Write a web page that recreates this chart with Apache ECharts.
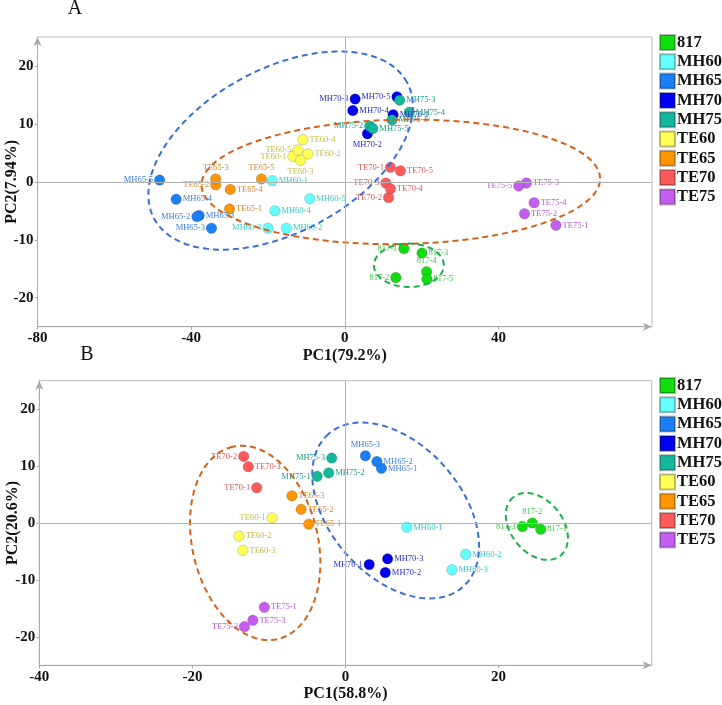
<!DOCTYPE html>
<html>
<head>
<meta charset="utf-8">
<script src="https://cdn.jsdelivr.net/npm/echarts@6/dist/echarts.min.js"></script>
<style>
  html, body { margin: 0; padding: 0; background: #fff; }
  #chart { width: 722px; height: 705px; }
</style>
</head>
<body>
<div id="chart"></div>
<script>
const serif = '"Times New Roman", "Liberation Serif", serif';

const groups = ['817', 'MH60', 'MH65', 'MH70', 'MH75', 'TE60', 'TE65', 'TE70', 'TE75'];
const dotColors = ['#11dd11', '#66ffff', '#1a80f5', '#0000ee', '#14b89c', '#ffff55', '#ff9500', '#ff5a5a', '#c45ef0'];
const labelColors = ['#3cc83c', '#3cc8c8', '#3a7fd6', '#2d2dc8', '#1fa08c', '#c2b84a', '#d4882c', '#d25a5a', '#b25ad8'];

// panel A, samples 1..5 of each group [PC1, PC2]
const a817 = [[15.4, -11.5], [13.3, -16.5], [20.1, -12.3], [21.3, -15.5], [21.4, -16.8]];
const aMH60 = [[-18.9, 0.2], [-15.2, -8.0], [-20.0, -8.0], [-18.2, -5.0], [-9.1, -2.9]];
const aMH65 = [[-37.9, -5.8], [-38.5, -6.0], [-34.7, -8.0], [-43.9, -3.0], [-48.2, 0.3]];
const aMH70 = [[12.6, 11.6], [5.9, 8.3], [2.7, 14.3], [2.1, 12.3], [13.6, 14.7]];
const aMH75 = [[12.3, 10.7], [6.5, 9.6], [14.3, 14.1], [16.8, 12.0], [7.3, 9.2]];
const aTE60 = [[-13.5, 4.4], [-9.6, 4.8], [-11.5, 3.7], [-10.9, 7.3], [-12.2, 5.5]];
const aTE65 = [[-30.0, -4.7], [-33.6, -0.5], [-33.6, 0.5], [-29.8, -1.3], [-21.7, 0.5]];
const aTE70 = [[11.9, 2.5], [11.4, -2.7], [10.7, -0.2], [11.9, -1.2], [14.5, 1.9]];
const aTE75 = [[55.0, -7.5], [46.8, -5.5], [47.3, -0.2], [49.3, -3.6], [45.3, -0.7]];

// panel B, samples 1..3 of each group
const b817 = [[25.5, -1.1], [24.4, 0.0], [23.1, -0.6]];
const bMH60 = [[8.0, -0.75], [15.7, -5.5], [13.9, -8.2]];
const bMH65 = [[4.7, 9.6], [4.1, 10.8], [2.6, 11.8]];
const bMH70 = [[3.1, -7.3], [5.2, -8.7], [5.5, -6.3]];
const bMH75 = [[-3.7, 8.2], [-2.2, 8.8], [-1.8, 11.4]];
const bTE60 = [[-9.6, 0.9], [-13.9, -2.3], [-13.4, -4.8]];
const bTE65 = [[-4.8, -0.2], [-5.8, 2.4], [-7.0, 4.8]];
const bTE70 = [[-11.6, 6.2], [-13.3, 11.7], [-12.7, 9.9]];
const bTE75 = [[-10.6, -14.8], [-13.2, -18.2], [-12.1, -17.1]];

const pointsA = [a817, aMH60, aMH65, aMH70, aMH75, aTE60, aTE65, aTE70, aTE75];
const pointsB = [b817, bMH60, bMH65, bMH70, bMH75, bTE60, bTE65, bTE70, bTE75];

// group ellipses: centre x, centre y, semi-axes (x units), angle (deg)
const ellipseA = [[-16.7, 5.4, 37.4, 21.3, 28.3], [14.6, 0.0, 51.9, 16.2, 1], [16.7, -14.4, 9.1, 5.65, 0]];
const ellipseB = [[-11.8, -3.5, 12.9, 8.2, 103.3], [6.55, 2.2, 13.3, 8.6, 131.3], [25.0, -0.6, 4.9, 3.4, 128.8]];
const ellipseColorsA = ['#3b6fd6', '#d4621a', '#19b04c'];
const ellipseColorsB = ['#d4621a', '#3b6fd6', '#19b04c'];

const ticksA_x = [-80, -40, 0, 40];
const ticksB_x = [-40, -20, 0, 20];
const ticksY = [-20, -10, 0, 10, 20];

// label sides (default right)
const leftA = ['817-1', '817-2', 'MH60-3', 'MH65-2', 'MH65-3', 'MH65-5', 'MH70-3', 'MH70-5', 'MH75-2',
  'TE60-1', 'TE60-5', 'TE65-2', 'TE70-1', 'TE70-2', 'TE70-3', 'TE75-5'];
const topA = ['TE65-3', 'TE65-5', '817-4'];
const bottomA = ['MH70-2', 'TE60-3'];
const leftB = ['817-3', 'TE70-2', 'TE70-1', 'MH75-3', 'MH75-1', 'TE60-1', 'TE75-2', 'MH70-1'];
const topB = ['817-2', 'MH65-3'];
const bottomB = [];

const chart = echarts.init(document.getElementById('chart'), null, { renderer: 'canvas' });

function scatter(pts, gi, k, left, top, bottom) {
  const name = groups[gi];
  return {
    type: 'scatter',
    name: name,
    xAxisIndex: k,
    yAxisIndex: k,
    symbolSize: 10.5,
    z: 3,
    itemStyle: { color: dotColors[gi], borderColor: 'rgba(0,0,0,0.28)', borderWidth: 0.6, opacity: 1 },
    label: {
      show: true, formatter: '{b}', color: labelColors[gi],
      fontFamily: serif, fontSize: 8.5, distance: 1
    },
    emphasis: { disabled: true },
    data: pts.map((p, i) => {
      const id = name + '-' + (i + 1);
      let pos = 'right';
      if (left.includes(id)) pos = 'left';
      else if (top.includes(id)) pos = 'top';
      else if (bottom.includes(id)) pos = 'bottom';
      return { value: p, name: id, label: { position: pos } };
    })
  };
}

function ellipses(rows, colors, k) {
  return {
    type: 'custom',
    xAxisIndex: k,
    yAxisIndex: k,
    z: 4,
    silent: true,
    dimensions: ['x', 'y', 'a', 'b', 'ang'],
    encode: { x: 0, y: 1 },
    data: rows,
    renderItem: (params, api) => {
      const c = api.coord([api.value(0), api.value(1)]);
      const unit = api.size([1, 0])[0];
      const a = api.value(2) * unit;
      const b = api.value(3) * unit;
      const th = api.value(4) * Math.PI / 180;
      const pts = [];
      for (let i = 0; i <= 120; i++) {
        const t = i / 120 * Math.PI * 2;
        const ex = a * Math.cos(t), ey = b * Math.sin(t);
        pts.push([c[0] + ex * Math.cos(th) - ey * Math.sin(th),
                  c[1] - (ex * Math.sin(th) + ey * Math.cos(th))]);
      }
      return {
        type: 'polyline',
        shape: { points: pts },
        style: { stroke: colors[params.dataIndex], lineWidth: 2, lineDash: [6, 4], fill: null }
      };
    }
  };
}

function zeroLines(k) {
  return {
    type: 'scatter', xAxisIndex: k, yAxisIndex: k, data: [], z: 1, silent: true,
    markLine: {
      silent: true, symbol: 'none', label: { show: false }, animation: false,
      lineStyle: { color: '#b4b4b4', type: 'solid', width: 1 },
      data: [{ xAxis: 0 }, { yAxis: 0 }]
    }
  };
}

const tickText = { fontFamily: serif, fontWeight: 'bold', fontSize: 15, color: '#111' };
const nameText = { fontFamily: serif, fontWeight: 'bold', fontSize: 16, color: '#111' };
const axisLine = { show: true, onZero: false, lineStyle: { color: '#aaa' }, symbol: ['none', 'arrow'], symbolSize: [6, 9] };

function xAxis(k, min, max, ticks, name) {
  return {
    type: 'value', gridIndex: k, min: min, max: max,
    splitLine: { show: false },
    axisLine: axisLine,
    axisTick: { show: true, length: 3, lineStyle: { color: '#aaa' }, customValues: ticks },
    axisLabel: Object.assign({ margin: 4, customValues: ticks }, tickText),
    name: name, nameLocation: 'middle', nameGap: 21, nameMoveOverlap: false, nameTextStyle: nameText
  };
}

function yAxis(k, name) {
  return {
    type: 'value', gridIndex: k, min: -25, max: 25,
    splitLine: { show: false },
    axisLine: axisLine,
    axisTick: { show: true, length: 3, lineStyle: { color: '#aaa' }, customValues: ticksY },
    axisLabel: Object.assign({ margin: 4, customValues: ticksY }, tickText),
    name: name, nameLocation: 'middle', nameGap: 18, nameMoveOverlap: false, nameTextStyle: nameText
  };
}

function legend(top) {
  return {
    data: groups, orient: 'vertical', left: 659, top: top, padding: 0,
    itemWidth: 15, itemHeight: 15, itemGap: 2.3, icon: 'rect', selectedMode: false,
    textStyle: { fontFamily: serif, fontWeight: 'bold', fontSize: 16.5, lineHeight: 15, color: '#111', padding: [0, 0, 0, -3] }
  };
}

const series = [zeroLines(0), zeroLines(1)];
pointsA.forEach((pts, gi) => series.push(scatter(pts, gi, 0, leftA, topA, bottomA)));
pointsB.forEach((pts, gi) => series.push(scatter(pts, gi, 1, leftB, topB, bottomB)));
series.push(ellipses(ellipseA, ellipseColorsA, 0));
series.push(ellipses(ellipseB, ellipseColorsB, 1));

chart.setOption({
  animation: false,
  grid: [
    { left: 37.5, right: 70, top: 37, bottom: 378.3, show: true, borderColor: '#bbb', borderWidth: 1, outerBoundsMode: 'none', containLabel: false },
    { left: 39.3, right: 70.3, top: 380.7, bottom: 39.7, show: true, borderColor: '#bbb', borderWidth: 1, outerBoundsMode: 'none', containLabel: false }
  ],
  xAxis: [xAxis(0, -80, 80, ticksA_x, 'PC1(79.2%)'), xAxis(1, -40, 40, ticksB_x, 'PC1(58.8%)')],
  yAxis: [yAxis(0, 'PC2(7.94%)'), yAxis(1, 'PC2(20.6%)')],
  legend: [legend(34), legend(377)],
  graphic: [
    { type: 'text', x: 75, y: 9, style: { text: 'A', font: '20px ' + serif, fill: '#111', textAlign: 'center', textVerticalAlign: 'middle' } },
    { type: 'text', x: 87, y: 355, style: { text: 'B', font: '20px ' + serif, fill: '#111', textAlign: 'center', textVerticalAlign: 'middle' } }
  ],
  series: series
});
</script>
</body>
</html>
